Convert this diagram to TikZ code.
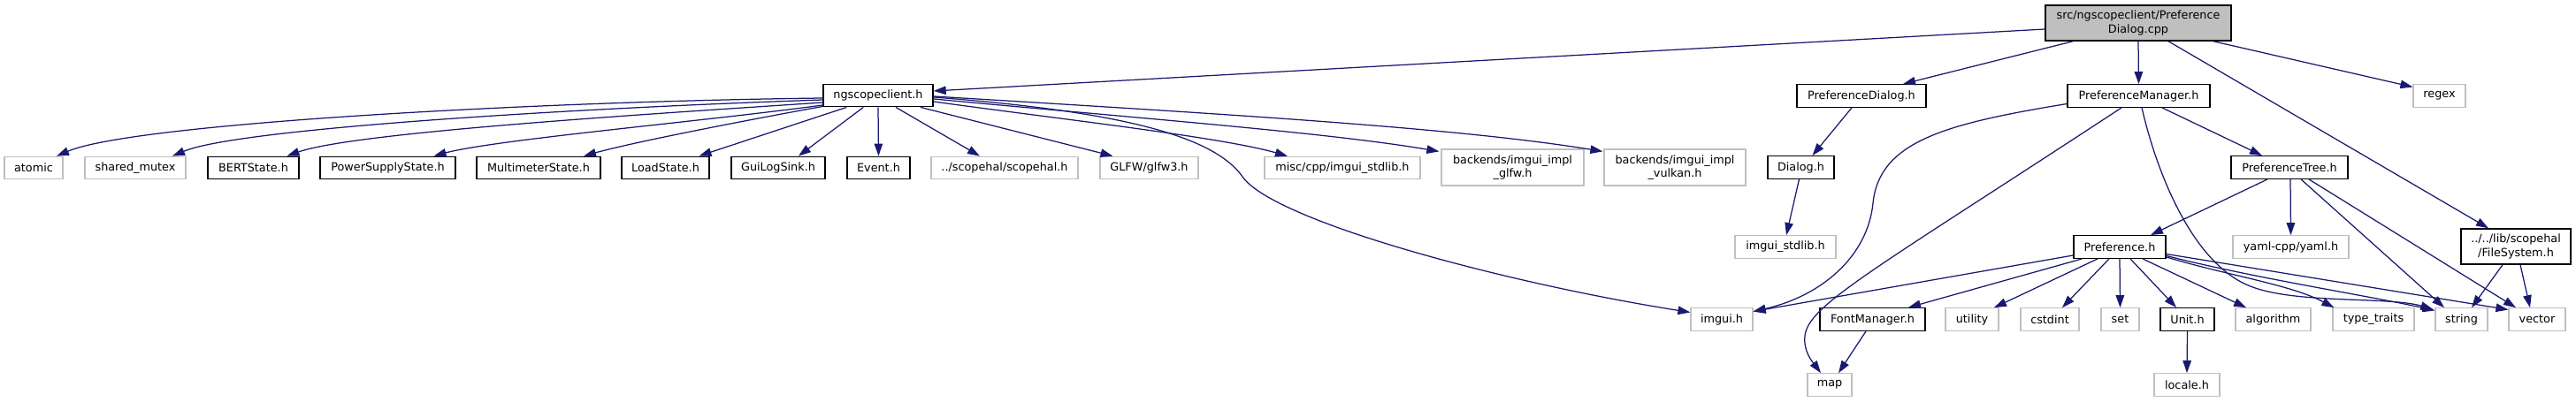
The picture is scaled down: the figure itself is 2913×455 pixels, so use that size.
\documentclass[tikz,border=0pt]{standalone}
\usepackage{fontspec}
\setmainfont{DejaVu Sans}
\usetikzlibrary{calc,arrows.meta}
\definecolor{edgeblue}{HTML}{191970}
\definecolor{sysgray}{HTML}{BFBFBF}
\begin{document}
\begin{tikzpicture}[x=1pt,y=-1pt,
  hbox/.style={inner sep=0pt, align=center, font=\fontsize{12.8pt}{15.5pt}\selectfont, text=black, minimum height=25.5pt},
  doc/.style={hbox, draw=black, line width=1.4pt, fill=white},
  sys/.style={hbox, draw=sysgray, line width=1.2pt, fill=white},
  rootnode/.style={hbox, draw=black, line width=1.4pt, fill=sysgray},
  edge/.style={draw=edgeblue, line width=1.25pt, -{Triangle[length=14pt,width=9.5pt]}}]
\useasboundingbox (0,0) rectangle (2913,455);
% level 0
\node[rootnode, minimum width=210pt, minimum height=40pt] (root) at (2418,26) {src/ngscopeclient/Preference\\Dialog.cpp};
% level 1
\node[doc, minimum width=124pt] (ngc) at (993,108) {ngscopeclient.h};
\node[doc, minimum width=146pt] (pdh) at (2105,108.5) {PreferenceDialog.h};
\node[doc, minimum width=161pt] (pmh) at (2418.5,108.5) {PreferenceManager.h};
\node[sys, minimum width=59pt] (regex) at (2758.5,108.5) {regex};
% level 2
\node[sys, minimum width=66pt] (atomic) at (38,190) {atomic};
\node[sys, minimum width=114pt] (shm) at (153,190) {shared\_mutex};
\node[doc, minimum width=103pt] (bert) at (286.5,190) {BERTState.h};
\node[doc, minimum width=153pt] (pss) at (438.5,190) {PowerSupplyState.h};
\node[doc, minimum width=140pt] (mms) at (609,190) {MultimeterState.h};
\node[doc, minimum width=99pt] (ls) at (752.5,190) {LoadState.h};
\node[doc, minimum width=106pt] (gls) at (880,190) {GuiLogSink.h};
\node[doc, minimum width=71pt] (ev) at (993.5,190) {Event.h};
\node[sys, minimum width=166pt] (sh) at (1136,190) {../scopehal/scopehal.h};
\node[sys, minimum width=111pt] (glfw) at (1299.5,190) {GLFW/glfw3.h};
\node[sys, minimum width=176pt] (misc) at (1518,190) {misc/cpp/imgui\_stdlib.h};
\node[sys, minimum width=161pt, minimum height=41pt] (bg) at (1710.5,189.5) {backends/imgui\_impl\\\_glfw.h};
\node[sys, minimum width=160pt, minimum height=41pt] (bv) at (1894,189.5) {backends/imgui\_impl\\\_vulkan.h};
\node[doc, minimum width=75pt] (dlg) at (2036.5,189.5) {Dialog.h};
\node[doc, minimum width=132pt] (tree) at (2589,189.5) {PreferenceTree.h};
% level 3
\node[sys, minimum width=114pt] (istd) at (2019,279.5) {imgui\_stdlib.h};
\node[doc, minimum width=104pt] (pref) at (2397,279.5) {Preference.h};
\node[sys, minimum width=131pt] (yaml) at (2590.5,279.5) {yaml-cpp/yaml.h};
\node[doc, minimum width=124pt, minimum height=40pt] (fs) at (2845,279) {../../lib/scopehal\\/FileSystem.h};
% level 4
\node[sys, minimum width=70pt] (imgui) at (1947,361.5) {imgui.h};
\node[doc, minimum width=119pt] (fm) at (2117.5,361.5) {FontManager.h};
\node[sys, minimum width=60pt] (util) at (2230,361.5) {utility};
\node[sys, minimum width=66pt] (cst) at (2318,361.5) {cstdint};
\node[sys, minimum width=43pt] (set) at (2397.5,361.5) {set};
\node[doc, minimum width=61pt] (unit) at (2473.5,361.5) {Unit.h};
\node[sys, minimum width=85pt] (alg) at (2570.5,361.5) {algorithm};
\node[sys, minimum width=92pt] (tt) at (2684,361.5) {type\_traits};
\node[sys, minimum width=59pt] (str) at (2783.5,361.5) {string};
\node[sys, minimum width=64pt] (vec) at (2869,361.5) {vector};
% level 5
\node[sys, minimum width=50pt] (map) at (2069,435.5) {map};
\node[sys, minimum width=74pt] (loc) at (2473,435.5) {locale.h};
% edges from root
\draw[edge] ($(root.west)+(0,7)$) -- ($(ngc.east)+(0,-5)$);
\draw[edge] ($(root.south west)+(32,0)$) -- ($(pdh.north)+(47,0)$);
\draw[edge] (root.south) -- (pmh.north);
\draw[edge] ($(root.south)+(34,0)$) -- ($(fs.north)+(-31,0)$);
\draw[edge] ($(root.south east)+(-21,0)$) -- ($(regex.west)+(0,-10)$);
% edges from ngscopeclient.h
\draw[edge] ($(ngc.west)+(0,3)$) .. controls (600,115) and (150,140) .. ($(atomic.north)+(26,0)$);
\draw[edge] ($(ngc.west)+(0,5)$) .. controls (660,122) and (270,145) .. ($(shm.north)+(42,0)$);
\draw[edge] ($(ngc.west)+(0,8)$) .. controls (720,130) and (400,150) .. ($(bert.north)+(38,0)$);
\draw[edge] ($(ngc.west)+(0,11)$) .. controls (790,138) and (560,158) .. ($(pss.north)+(52,0)$);
\draw[edge] ($(ngc.south west)+(0,-1)$) .. controls (850,135) and (720,160) .. ($(mms.north)+(51,0)$);
\draw[edge] ($(ngc.south west)+(27,0)$) -- ($(ls.north)+(38,0)$);
\draw[edge] ($(ngc.south west)+(46,0)$) -- ($(gls.north)+(23,0)$);
\draw[edge] (ngc.south) -- (ev.north);
\draw[edge] ($(ngc.south)+(20,0)$) -- ($(sh.north)+(-28,0)$);
\draw[edge] ($(ngc.south)+(48,0)$) -- ($(glfw.north)+(-41,0)$);
\draw[edge] ($(ngc.east)+(0,7)$) .. controls (1200,135) and (1380,155) .. ($(misc.north)+(-62,0)$);
\draw[edge] ($(ngc.east)+(0,4)$) .. controls (1300,135) and (1500,150) .. ($(bg.north west)+(-2,3)$);
\draw[edge] ($(ngc.east)+(0,1)$) .. controls (1400,130) and (1650,145) .. ($(bv.north west)+(-1,3)$);
\draw[edge] ($(ngc.east)+(0,2)$) .. controls (1250,125) and (1370,150) .. (1405,200) .. controls (1440,250) and (1700,320) .. ($(imgui.west)+(0,-8)$);
% PreferenceDialog.h / Dialog.h
\draw[edge] ($(pdh.south)+(-11,0)$) -- ($(dlg.north)+(13,0)$);
\draw[edge] ($(dlg.south)+(-2,0)$) -- ($(istd.north)+(1,0)$);
% PreferenceManager.h
\draw[edge] ($(pmh.west)+(0,9)$) .. controls (2200,140) and (2125,160) .. (2118,230) .. controls (2112,290) and (2060,335) .. ($(imgui.east)+(0,-9)$);
\draw[edge] ($(pmh.south)+(-19.5,0)$) .. controls (2120,305) and (2045,345) .. (2041,380) .. controls (2039,398) and (2050,410) .. ($(map.north)+(-10,0)$);
\draw[edge] ($(pmh.south)+(3.5,0)$) .. controls (2440,200) and (2480,295) .. (2540,322) .. controls (2590,345) and (2700,335) .. ($(str.north west)+(-2,2)$);
\draw[edge] ($(pmh.south)+(26.5,0)$) -- ($(tree.north)+(-31,0)$);
% PreferenceTree.h
\draw[edge] ($(tree.south)+(-25,0)$) -- ($(pref.north)+(35,0)$);
\draw[edge] ($(tree.south)+(1,0)$) -- (yaml.north);
\draw[edge] ($(tree.south)+(13,0)$) -- ($(str.north)+(-19.5,0)$);
\draw[edge] ($(tree.south)+(22,0)$) -- ($(vec.north)+(-24,0)$);
% FileSystem.h
\draw[edge] ($(fs.south)+(-15,0)$) -- ($(str.north)+(11.5,0)$);
\draw[edge] ($(fs.south)+(5,0)$) -- ($(vec.north)+(-8,0)$);
% Preference.h
\draw[edge] ($(pref.west)+(0,9.5)$) -- ($(imgui.east)+(0,-9)$);
\draw[edge] ($(pref.south west)+(10,0)$) -- ($(fm.north)+(40.5,0)$);
\draw[edge] ($(pref.south)+(-25,0)$) -- ($(util.north)+(25,0)$);
\draw[edge] ($(pref.south)+(-12,0)$) -- ($(cst.north)+(14,0)$);
\draw[edge] (pref.south) -- (set.north);
\draw[edge] ($(pref.south)+(12,0)$) -- ($(unit.north)+(-12.5,0)$);
\draw[edge] ($(pref.south)+(26,0)$) -- ($(alg.north)+(-30.5,0)$);
\draw[edge] ($(pref.south east)+(0,-2)$) .. controls (2520,312) and (2590,322) .. ($(tt.north west)+(2,0)$);
\draw[edge] ($(pref.east)+(0,10)$) .. controls (2550,315) and (2680,335) .. ($(str.west)+(0,-10)$);
\draw[edge] ($(pref.east)+(0,8)$) -- ($(vec.west)+(0,-11)$);
% Unit.h, FontManager.h
\draw[edge] (unit.south) -- (loc.north);
\draw[edge] ($(fm.south)+(-7.5,0)$) -- ($(map.north)+(10,0)$);
\end{tikzpicture}
\end{document}
